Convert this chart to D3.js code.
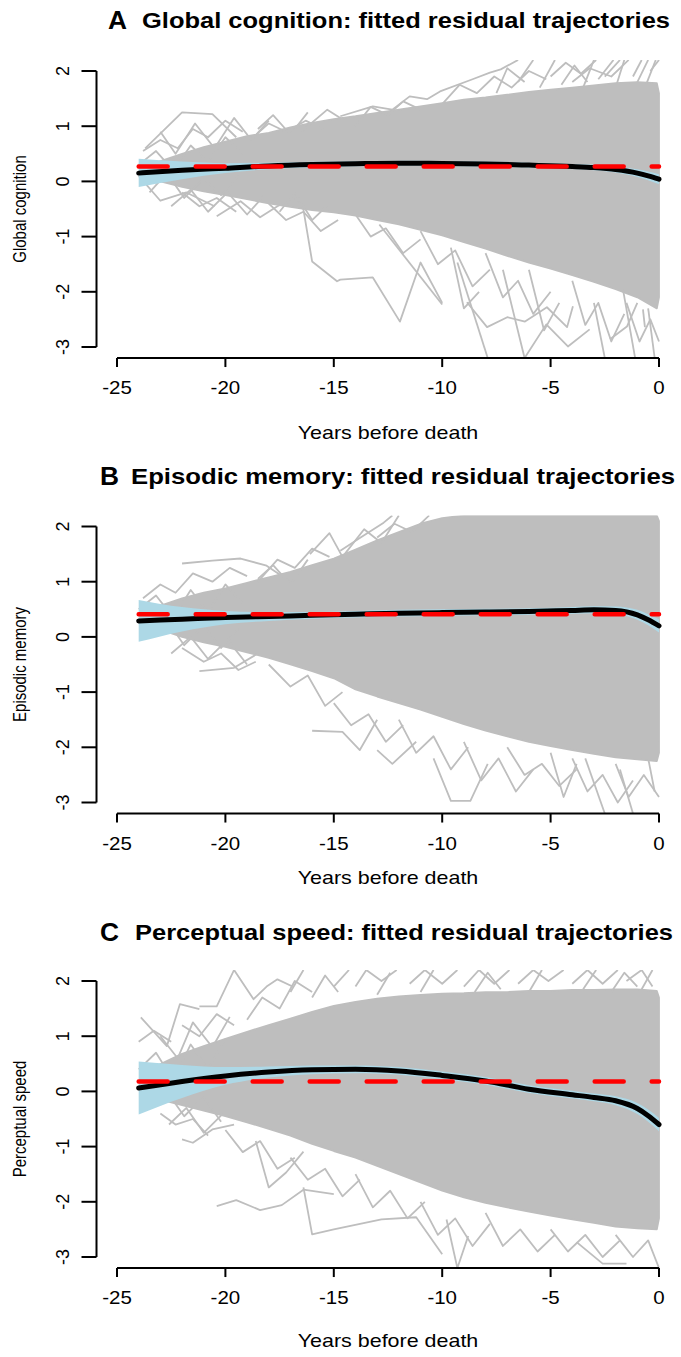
<!DOCTYPE html>
<html>
<head>
<meta charset="utf-8">
<script src="https://cdn.jsdelivr.net/npm/d3@7"></script>
<style>
  body { margin: 0; background: #fff; }
  svg { display: block; }
  text { font-family: "Liberation Sans", Arial, sans-serif; fill: #000; }
</style>
</head>
<body>
<svg id="fig" width="681" height="1357"></svg>
<script>
// ---- fitted mean trajectories (years before death -> residual score) ----
const fitYears = [-24, -22, -20, -18, -16, -14, -12, -10, -8, -6, -4, -3, -2, -1, -0.5, 0];

const fitGlobal  = [0.15, 0.20, 0.24, 0.28, 0.305, 0.32, 0.33, 0.325, 0.315, 0.295, 0.27, 0.25, 0.215, 0.15, 0.10, 0.04];
const loGlobal   = [-0.10, 0.04, 0.15, 0.22, 0.255, 0.275, 0.285, 0.28, 0.27, 0.25, 0.225, 0.20, 0.16, 0.08, 0.02, -0.05];
const hiGlobal   = [0.41, 0.36, 0.33, 0.34, 0.355, 0.365, 0.375, 0.37, 0.36, 0.34, 0.315, 0.30, 0.27, 0.22, 0.18, 0.13];

const fitEpisodic = [0.29, 0.32, 0.35, 0.37, 0.39, 0.41, 0.43, 0.44, 0.45, 0.46, 0.48, 0.49, 0.48, 0.40, 0.31, 0.20];
const loEpisodic  = [-0.09, 0.10, 0.23, 0.29, 0.33, 0.35, 0.37, 0.38, 0.39, 0.40, 0.42, 0.425, 0.41, 0.31, 0.21, 0.08];
const hiEpisodic  = [0.67, 0.54, 0.47, 0.45, 0.45, 0.47, 0.49, 0.50, 0.51, 0.52, 0.54, 0.555, 0.55, 0.49, 0.41, 0.32];

const fitSpeed = [0.06, 0.18, 0.28, 0.35, 0.39, 0.40, 0.37, 0.29, 0.19, 0.04, -0.06, -0.11, -0.17, -0.31, -0.44, -0.60];
const loSpeed  = [-0.42, -0.12, 0.12, 0.25, 0.31, 0.33, 0.30, 0.22, 0.12, -0.03, -0.13, -0.18, -0.25, -0.41, -0.55, -0.72];
const hiSpeed  = [0.54, 0.48, 0.44, 0.45, 0.47, 0.47, 0.44, 0.36, 0.26, 0.11, 0.01, -0.04, -0.09, -0.21, -0.33, -0.48];

// population reference levels (dashed)
const refGlobal = 0.27;
const refEpisodic = 0.41;
const refSpeed = 0.18;

// ---- dense part of the individual trajectories: [year, upper, lower] ----
const coreGlobal = [
  [-23.5, 0.30, 0.05], [-22, 0.50, -0.10], [-21, 0.62, -0.18], [-20, 0.72, -0.25],
  [-19, 0.82, -0.32], [-18, 0.88, -0.40], [-17, 0.98, -0.46], [-16, 1.06, -0.52], [-15, 1.13, -0.56],
  [-14, 1.18, -0.62], [-13, 1.24, -0.70], [-12, 1.30, -0.78], [-11, 1.36, -0.88], [-10, 1.42, -0.98],
  [-9, 1.48, -1.10], [-8, 1.52, -1.22], [-7, 1.57, -1.35], [-6, 1.62, -1.47], [-5, 1.66, -1.58],
  [-4, 1.70, -1.70], [-3, 1.74, -1.82], [-2, 1.78, -1.95], [-1, 1.80, -2.10], [-0.1, 1.78, -2.30], [0, 1.6, -2.1]
];
const coreEpisodic = [
  [-23.5, 0.50, 0.20], [-22, 0.70, 0.00], [-21, 0.80, -0.10], [-20, 0.88, -0.18],
  [-19, 0.98, -0.28], [-18, 1.08, -0.38], [-17, 1.18, -0.50], [-16, 1.30, -0.62], [-15, 1.42, -0.75],
  [-14, 1.58, -0.95], [-13, 1.75, -1.08], [-12, 1.90, -1.20], [-11, 2.05, -1.32], [-10, 2.15, -1.45],
  [-9, 2.20, -1.58], [-8, 2.20, -1.70], [-7, 2.20, -1.80], [-6, 2.20, -1.90], [-5, 2.20, -1.98],
  [-4, 2.20, -2.05], [-3, 2.20, -2.12], [-2, 2.20, -2.18], [-1, 2.20, -2.22], [-0.1, 2.20, -2.25], [0, 2.1, -2.1]
];
const coreSpeed = [
  [-23.5, 0.40, -0.10], [-22, 0.68, -0.25], [-21, 0.82, -0.35], [-20, 0.95, -0.45],
  [-19, 1.08, -0.56], [-18, 1.20, -0.68], [-17, 1.32, -0.80], [-16, 1.44, -0.95], [-15, 1.55, -1.08],
  [-14, 1.62, -1.20], [-13, 1.68, -1.35], [-12, 1.72, -1.50], [-11, 1.75, -1.65], [-10, 1.77, -1.80],
  [-9, 1.78, -1.92], [-8, 1.80, -2.02], [-7, 1.80, -2.10], [-6, 1.82, -2.18], [-5, 1.82, -2.25],
  [-4, 1.84, -2.32], [-3, 1.84, -2.38], [-2, 1.85, -2.45], [-1, 1.85, -2.48], [-0.1, 1.82, -2.50], [0, 1.7, -2.3]
];

// ---- individual trajectories standing out from the dense part ----
const trajGlobal = [
  [[-20.4, -0.63], [-19.3, -0.36], [-18.4, -0.65], [-17.6, -0.45], [-16.8, -0.3]],
  [[-16.65, -0.33], [-16.4, -0.51], [-16.0, -1.45], [-14.85, -1.81], [-14.7, -1.78], [-13.2, -1.74], [-11.95, -2.54], [-11.0, -1.47], [-10.0, -2.2]],
  [[-12.9, -0.78], [-10.0, -2.23]],
  [[-9.3, -1.47], [-7.9, -3.2]],
  [[-7.2, -1.6], [-6.2, -3.2], [-5.2, -2.59], [-4.2, -2.99], [-3.2, -2.68]],
  [[-8.86, -2.19], [-7.93, -2.64], [-7.0, -2.46], [-6.18, -2.54], [-5.17, -2.28], [-4.24, -2.64], [-3.97, -2.26]],
  [[-1.66, -1.96], [-1.1, -3.2]],
  [[-0.74, -2.32], [-0.65, -2.64]],
  [[-2.26, -2.86], [-1.48, -2.63], [-1.0, -2.2]],
  [[-14.7, 1.18], [-13.2, 1.36], [-12.3, 1.30], [-11.5, 1.54], [-10.7, 1.49], [-10.1, 1.63], [-8.6, 1.85], [-7.8, 1.97], [-7.3, 2.03], [-6.5, 2.2]],
  [[-23.7, 0.60], [-22.0, 1.25], [-20.6, 1.22], [-19.5, 0.80]],
  [[-16.5, 0.90], [-15.3, 1.30], [-14.5, 1.10]],
  [[-24.0, 0.10], [-23.0, -0.35], [-21.8, -0.20], [-20.5, -0.45]],
  [[-24.0, 0.30], [-23.2, 0.55], [-22.4, 0.20], [-21.6, 0.65], [-20.8, 0.35], [-20.0, 0.80], [-19.2, 0.50]],
  [[-23.5, -0.20], [-22.7, 0.15], [-21.9, -0.30], [-21.0, 0.05], [-20.2, -0.25], [-19.4, 0.10]],
  [[-23.0, 0.90], [-22.3, 0.50], [-21.4, 1.05], [-20.5, 0.60], [-19.6, 1.15], [-18.8, 0.75], [-18.0, 1.10]],
  [[-22.5, -0.45], [-21.6, -0.15], [-20.8, -0.55], [-19.9, -0.20], [-19.0, -0.60], [-18.2, -0.25]],
  [[-18.5, 0.95], [-17.8, 1.20], [-17.0, 0.85], [-16.2, 1.25]],
  [[-17.5, -0.55], [-16.8, -0.20], [-16.0, -0.70], [-15.2, -0.40]],
  [[-23.8, 0.55], [-23.0, 0.75], [-22.2, 0.60], [-21.5, 0.95], [-20.8, 0.80], [-20.0, 1.10], [-19.2, 0.90]],
  [[-19.0, 0.70], [-18.0, 1.05], [-17.2, 0.90], [-16.3, 1.10], [-15.5, 0.95]],
  [[-14.0, 1.00], [-13.3, 1.35], [-12.5, 1.20], [-11.8, 1.45], [-11.0, 1.30]],
  [[-10.0, 1.40], [-9.2, 1.75], [-8.4, 1.60], [-7.6, 1.90], [-6.8, 1.70], [-6.0, 2.00], [-5.2, 1.85]],
  [[-6.5, 1.80], [-5.8, 2.2]],
  [[-7.5, 1.60], [-7.0, 2.05], [-6.2, 1.80]],
  [[-5.5, 1.70], [-4.8, 2.2]],
  [[-4.5, 1.75], [-3.9, 2.10], [-3.3, 1.80]],
  [[-5.0, 1.90], [-4.3, 2.15], [-3.6, 1.95], [-2.9, 2.2]],
  [[-4.0, 1.80], [-3.2, 2.05], [-2.2, 1.90], [-1.4, 2.2]],
  [[-3.5, 1.70], [-3.0, 2.2]],
  [[-2.8, 1.85], [-2.1, 2.2]],
  [[-2.5, 1.90], [-1.8, 2.2]],
  [[-2.0, 1.70], [-1.6, 2.2]],
  [[-1.2, 1.90], [-0.8, 2.2]],
  [[-1.0, 1.80], [-0.5, 2.2]],
  [[-0.6, 1.75], [-0.15, 2.2]],
  [[-0.4, 2.00], [0.0, 2.2]],
  [[-22.0, -0.20], [-21.2, -0.45], [-20.4, -0.30], [-19.5, -0.55]],
  [[-18.0, -0.40], [-17.2, -0.70], [-16.4, -0.55], [-15.6, -0.90], [-14.8, -0.70]],
  [[-14.0, -0.60], [-13.3, -1.00], [-12.6, -0.85], [-11.8, -1.30], [-11.0, -1.05]],
  [[-11.0, -0.90], [-10.2, -1.50], [-9.4, -1.25], [-8.6, -1.90], [-7.8, -1.60]],
  [[-8.0, -1.30], [-7.2, -2.10], [-6.5, -1.80], [-5.8, -2.40], [-5.0, -2.00]],
  [[-6.0, -1.60], [-5.3, -2.70], [-4.6, -2.20]],
  [[-4.0, -1.80], [-3.4, -2.60], [-2.8, -2.20], [-2.2, -2.90], [-1.6, -2.40]],
  [[-3.0, -2.20], [-2.5, -3.2]],
  [[-1.5, -2.20], [-0.9, -2.90], [-0.4, -2.50], [0.0, -2.90]],
  [[-0.5, -2.30], [-0.2, -3.2]],
  [[-9.6, -1.20], [-9.0, -2.30], [-8.3, -2.00]]
];
const trajEpisodic = [
  [[-16.1, 1.5], [-15.2, 1.88], [-14.6, 1.45]],
  [[-22.0, 1.33], [-20.6, 1.38], [-19.3, 1.42], [-18.1, 1.29], [-17.0, 1.0]],
  [[-21.2, -0.62], [-19.6, -0.56], [-18.5, -0.3]],
  [[-14.7, 1.56], [-13.8, 1.79], [-12.7, 2.07], [-12.3, 2.2]],
  [[-16.0, -1.7], [-14.6, -1.72], [-13.8, -2.05], [-13.0, -1.5]],
  [[-13.0, -2.05], [-12.3, -2.3], [-11.2, -1.9]],
  [[-10.4, -2.2], [-9.6, -2.97], [-8.7, -2.97], [-7.9, -2.3]],
  [[-5.0, -2.1], [-4.4, -2.9], [-3.8, -2.3]],
  [[-3.4, -2.2], [-2.5, -3.2]],
  [[-1.8, -2.4], [-1.2, -3.2]],
  [[-0.5, -2.2], [-0.2, -2.8]],
  [[-24.0, 0.50], [-23.2, 0.75], [-22.4, 0.35], [-21.6, 0.85], [-20.8, 0.45], [-20.0, 0.95], [-19.2, 0.60]],
  [[-23.5, 0.00], [-22.7, 0.30], [-21.9, -0.15], [-21.0, 0.20], [-20.2, -0.20], [-19.4, 0.15]],
  [[-22.5, -0.30], [-21.6, 0.00], [-20.8, -0.40], [-19.9, -0.05], [-19.0, -0.50]],
  [[-18.5, 1.05], [-17.8, 1.30], [-17.0, 0.95], [-16.2, 1.40]],
  [[-23.8, 0.70], [-23.0, 0.95], [-22.3, 0.80], [-21.5, 1.15], [-20.6, 1.00], [-19.8, 1.25], [-19.0, 1.10]],
  [[-18.5, 1.00], [-17.6, 1.40], [-16.8, 1.25], [-16.0, 1.60], [-15.2, 1.45]],
  [[-14.5, 1.50], [-13.6, 1.95], [-12.8, 1.70], [-12.0, 2.2]],
  [[-13.0, 1.80], [-12.2, 2.05], [-11.4, 1.90], [-10.6, 2.2]],
  [[-22.0, -0.20], [-21.0, -0.45], [-20.2, -0.30], [-19.4, -0.60], [-18.6, -0.45]],
  [[-18.0, -0.50], [-17.0, -0.90], [-16.2, -0.70], [-15.4, -1.25], [-14.6, -1.00]],
  [[-15.0, -1.20], [-14.2, -1.60], [-13.4, -1.40], [-12.6, -1.90], [-11.8, -1.60]],
  [[-12.0, -1.50], [-11.2, -2.10], [-10.4, -1.80], [-9.6, -2.40], [-8.8, -2.00]],
  [[-9.0, -1.90], [-8.2, -2.60], [-7.4, -2.20], [-6.6, -2.80], [-5.8, -2.40]],
  [[-7.0, -2.00], [-6.2, -2.50], [-5.4, -2.30], [-4.6, -2.70], [-3.8, -2.40]],
  [[-4.0, -2.20], [-3.3, -2.80], [-2.6, -2.50], [-1.9, -3.00], [-1.2, -2.60]],
  [[-2.0, -2.30], [-1.4, -2.90], [-0.7, -2.50], [0.0, -2.90]]
];
const trajSpeed = [
  [[-21.2, 1.54], [-20.4, 1.54], [-19.6, 2.2], [-18.7, 1.67], [-18.1, 1.9], [-17.6, 2.03], [-16.9, 1.9]],
  [[-23.9, 1.34], [-22.7, 0.82], [-22.1, 1.58], [-21.2, 1.49]],
  [[-20.4, -2.08], [-19.5, -1.97], [-18.4, -2.15], [-17.4, -2.06], [-16.4, -1.78], [-15.0, -1.86]],
  [[-18.6, -0.9], [-18.0, -1.74], [-17.2, -1.47], [-16.4, -1.09]],
  [[-16.4, -1.74], [-16.0, -2.59], [-15.0, -2.5], [-12.8, -2.32], [-11.2, -2.28], [-10.0, -2.95]],
  [[-22.0, -0.87], [-21.5, -0.93], [-20.6, -0.69], [-19.6, -0.60]],
  [[-9.8, -2.32], [-9.3, -3.2], [-8.8, -2.62]],
  [[-3.8, -2.73], [-2.6, -3.12], [-1.5, -3.12]],
  [[-24.0, 0.40], [-23.2, 0.70], [-22.4, 0.20], [-21.6, 0.85], [-20.8, 0.40], [-20.0, 0.95]],
  [[-23.5, -0.30], [-22.7, 0.00], [-21.9, -0.45], [-21.0, -0.10], [-20.2, -0.55]],
  [[-23.0, 1.00], [-22.2, 0.60], [-21.5, 1.25], [-20.6, 0.80], [-19.8, 1.35]],
  [[-22.6, -0.60], [-21.8, -0.30], [-21.0, -0.75], [-20.1, -0.40]],
  [[-24.0, 0.90], [-23.3, 1.10], [-22.5, 0.90]],
  [[-22.0, 1.20], [-21.2, 1.00], [-20.4, 1.40], [-19.6, 1.20]],
  [[-19.0, 1.30], [-18.3, 1.70], [-17.5, 1.50], [-16.8, 2.00], [-16.0, 1.80]],
  [[-17.0, 1.80], [-16.4, 2.2]],
  [[-16.0, 1.70], [-15.4, 2.10], [-14.8, 1.80]],
  [[-15.0, 1.90], [-14.3, 2.2]],
  [[-14.0, 1.90], [-13.5, 2.2], [-12.8, 2.00], [-12.1, 2.2]],
  [[-13.0, 1.75], [-12.4, 2.15]],
  [[-11.5, 1.95], [-10.8, 2.2], [-10.0, 1.95], [-9.3, 2.2]],
  [[-11.0, 1.80], [-10.4, 2.2]],
  [[-9.0, 1.90], [-8.3, 2.2], [-7.6, 1.95], [-6.9, 2.2]],
  [[-8.5, 1.80], [-7.9, 2.15], [-7.3, 1.85]],
  [[-6.5, 1.95], [-5.8, 2.2], [-5.1, 2.00], [-4.4, 2.2]],
  [[-6.0, 1.80], [-5.4, 2.2]],
  [[-4.0, 1.95], [-3.3, 2.2], [-2.6, 1.95], [-1.9, 2.2]],
  [[-3.5, 1.85], [-2.9, 2.2]],
  [[-2.2, 1.80], [-1.6, 2.15], [-1.0, 1.90]],
  [[-1.5, 2.00], [-0.8, 2.2], [-0.3, 1.90]],
  [[-0.8, 1.85], [-0.3, 2.2]],
  [[-23.0, -0.40], [-22.3, -0.60], [-21.5, -0.50], [-20.8, -0.80]],
  [[-20.0, -0.70], [-19.2, -1.10], [-18.4, -0.90], [-17.6, -1.40], [-16.8, -1.20]],
  [[-17.0, -1.20], [-16.2, -1.60], [-15.4, -1.40], [-14.6, -1.90], [-13.8, -1.60]],
  [[-14.0, -1.50], [-13.2, -2.10], [-12.4, -1.80], [-11.6, -2.30], [-10.8, -2.00]],
  [[-11.0, -2.00], [-10.2, -2.60], [-9.4, -2.30], [-8.6, -2.80], [-7.8, -2.40]],
  [[-8.0, -2.20], [-7.2, -2.80], [-6.4, -2.50], [-5.6, -2.90], [-4.8, -2.60]],
  [[-5.0, -2.50], [-4.2, -2.90], [-3.4, -2.60], [-2.6, -3.00], [-1.8, -2.70]],
  [[-2.0, -2.60], [-1.2, -3.00], [-0.5, -2.70], [0.0, -3.2]]
];

// ---- axis ticks ----
const xTicks = [-25, -20, -15, -10, -5, 0];
const yTicks = [-3, -2, -1, 0, 1, 2];

const panels = [
  { letter: "A", title: "Global cognition: fitted residual trajectories", ylab: "Global cognition",
    fit: fitGlobal, lo: loGlobal, hi: hiGlobal, ref: refGlobal, core: coreGlobal, traj: trajGlobal,
    y2: 71, titleY: 28, letterX: 108, letterW: 19, titleX: 142, titleW: 528, xlabY: 439 },
  { letter: "B", title: "Episodic memory: fitted residual trajectories", ylab: "Episodic memory",
    fit: fitEpisodic, lo: loEpisodic, hi: hiEpisodic, ref: refEpisodic, core: coreEpisodic, traj: trajEpisodic,
    y2: 526.5, titleY: 484, letterX: 100, letterW: 19, titleX: 131, titleW: 544, xlabY: 884 },
  { letter: "C", title: "Perceptual speed: fitted residual trajectories", ylab: "Perceptual speed",
    fit: fitSpeed, lo: loSpeed, hi: hiSpeed, ref: refSpeed, core: coreSpeed, traj: trajSpeed,
    y2: 981, titleY: 940, letterX: 100, letterW: 19, titleX: 135, titleW: 538, xlabY: 1347 }
];

const svg = d3.select("#fig");
const x = d3.scaleLinear().domain([-25, 0]).range([117, 659]);
const axisX = 96.5;
const GRAY = "#BEBEBE";

panels.forEach((p, i) => {
  const y = d3.scaleLinear().domain([-3, 2]).range([p.y2 + 276, p.y2]);
  const plotTop = y(2.2), plotBottom = y(-3.2);
  const g = svg.append("g");

  // clip to the plotting region
  const clipId = "clip" + i;
  svg.append("clipPath").attr("id", clipId)
    .append("rect").attr("x", axisX).attr("y", plotTop)
    .attr("width", 681 - axisX).attr("height", plotBottom - plotTop);
  const plot = g.append("g").attr("clip-path", `url(#${clipId})`);

  // dense mass of individual trajectories
  plot.append("path").datum(p.core)
    .attr("d", d3.area().x(d => x(d[0])).y0(d => y(d[2])).y1(d => y(d[1])).curve(d3.curveLinear))
    .attr("fill", GRAY).attr("stroke", GRAY).attr("stroke-width", 1.8).attr("stroke-linejoin", "round");

  // individual trajectories
  const line = d3.line().x(d => x(d[0])).y(d => y(d[1]));
  plot.selectAll("path.traj").data(p.traj).join("path").attr("class", "traj")
    .attr("d", line).attr("fill", "none").attr("stroke", GRAY)
    .attr("stroke-width", 1.8).attr("stroke-linejoin", "round");

  // confidence band
  const fitData = fitYears.map((t, k) => ({ t, f: p.fit[k], lo: p.lo[k], hi: p.hi[k] }));
  plot.append("path").datum(fitData)
    .attr("d", d3.area().x(d => x(d.t)).y0(d => y(d.lo)).y1(d => y(d.hi)).curve(d3.curveMonotoneX))
    .attr("fill", "#ADD8E6");

  // fitted trajectory
  plot.append("path").datum(fitData)
    .attr("d", d3.line().x(d => x(d.t)).y(d => y(d.f)).curve(d3.curveMonotoneX))
    .attr("fill", "none").attr("stroke", "#000").attr("stroke-width", 5).attr("stroke-linecap", "round");

  // reference level
  plot.append("line")
    .attr("x1", x(-24)).attr("x2", x(0)).attr("y1", y(p.ref)).attr("y2", y(p.ref))
    .attr("stroke", "#FF0000").attr("stroke-width", 4.5)
    .attr("stroke-dasharray", "29,28").attr("stroke-linecap", "round");

  // y axis
  g.append("line").attr("x1", axisX).attr("x2", axisX).attr("y1", y(-3)).attr("y2", y(2))
    .attr("stroke", "#000").attr("stroke-width", 2);
  yTicks.forEach(v => {
    g.append("line").attr("x1", axisX - 15).attr("x2", axisX).attr("y1", y(v)).attr("y2", y(v))
      .attr("stroke", "#000").attr("stroke-width", 2);
    g.append("text").attr("transform", `translate(63,${y(v)}) rotate(-90)`)
      .attr("text-anchor", "middle").attr("dominant-baseline", "central")
      .style("font-size", "18px").text(v);
  });

  // x axis
  g.append("line").attr("x1", x(-25)).attr("x2", x(0)).attr("y1", plotBottom).attr("y2", plotBottom)
    .attr("stroke", "#000").attr("stroke-width", 2);
  xTicks.forEach(v => {
    g.append("line").attr("x1", x(v)).attr("x2", x(v)).attr("y1", plotBottom).attr("y2", plotBottom + 9)
      .attr("stroke", "#000").attr("stroke-width", 2);
    g.append("text").attr("transform", `translate(${x(v)},${plotBottom + 36}) scale(1.08,1)`)
      .attr("text-anchor", "middle").style("font-size", "19px").text(v);
  });

  // axis titles
  g.append("text").attr("transform", `translate(388,${p.xlabY}) scale(1.13,1)`)
    .attr("text-anchor", "middle").style("font-size", "19px").text("Years before death");
  g.append("text").attr("transform", `translate(20,${(plotTop + plotBottom) / 2}) scale(1.2,1) rotate(-90)`)
    .attr("text-anchor", "middle").attr("dominant-baseline", "central")
    .style("font-size", "15px").text(p.ylab);

  // panel heading
  g.append("text").attr("x", p.letterX).attr("y", p.titleY + 1)
    .attr("textLength", p.letterW).attr("lengthAdjust", "spacingAndGlyphs")
    .style("font-size", "26px").style("font-weight", "bold").text(p.letter);
  g.append("text").attr("x", p.titleX).attr("y", p.titleY)
    .attr("textLength", p.titleW).attr("lengthAdjust", "spacingAndGlyphs")
    .style("font-size", "22px").style("font-weight", "bold").text(p.title);
});
</script>
</body>
</html>
